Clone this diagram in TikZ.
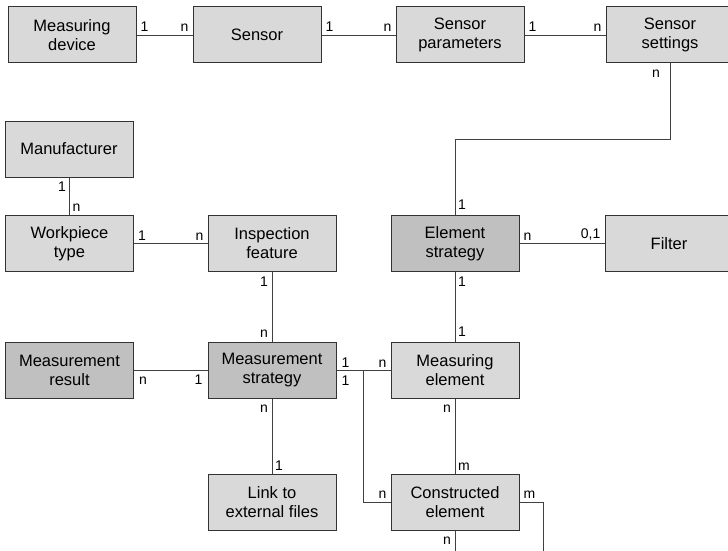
\documentclass[tikz,border=0pt]{standalone}
\usepackage{fontspec}
\setmainfont{Liberation Sans}
\definecolor{boxlight}{HTML}{D9D9D9}
\definecolor{boxdark}{HTML}{C0C0C0}
\definecolor{edge}{HTML}{333333}
\definecolor{linec}{HTML}{404040}
\begin{document}
\begin{tikzpicture}[x=1pt,y=-1pt,
  box/.style={draw=edge, line width=1pt, fill=boxlight, minimum width=128pt, minimum height=56pt,
    inner sep=0pt, align=center, font=\fontsize{16.5}{19}\selectfont},
  dbox/.style={box, fill=boxdark},
  conn/.style={draw=linec, line width=0.9pt},
  lbl/.style={inner sep=0pt, font=\fontsize{14}{16}\selectfont}]
\useasboundingbox[fill=white] (0,0) rectangle (728,551);
\begin{scope}
\clip (0,0) rectangle (728,551);
% nodes
\node[box] (md) at (72,35) {Measuring\\device};
\node[box] (sen) at (257,35) {Sensor};
\node[box] (sp) at (460,35) {Sensor\\parameters};
\node[box] (ss) at (670,35) {Sensor\\settings};
\node[box] (man) at (69,149) {Manufacturer};
\node[box] (wt) at (69.5,243.5) {Workpiece\\type};
\node[box] (if) at (272,243.5) {Inspection\\feature};
\node[dbox] (es) at (455,243.5) {Element\\strategy};
\node[box] (fil) at (669,243.5) {Filter};
\node[dbox] (mr) at (69.5,370.5) {Measurement\\result};
\node[dbox] (ms) at (272,370.5) {Measurement\\strategy};
\node[box] (me) at (455,370.5) {Measuring\\element};
\node[box] (lef) at (272,502) {Link to\\external files};
\node[box] (ce) at (455,502) {Constructed\\element};
\coordinate (j) at (363,370.5);
\coordinate (ceR) at (543,551);
\coordinate (ceB) at (455,551);
% connectors
\draw[conn] (md.east) -- (sen.west);
\draw[conn] (sen.east) -- (sp.west);
\draw[conn] (sp.east) -- (ss.west);
\draw[conn] (ss.south) -- ++(0,76) -| (es.north);
\draw[conn] (man.south) -- (man.south |- wt.north);
\draw[conn] (wt.east) -- (if.west);
\draw[conn] (es.east) -- (fil.west);
\draw[conn] (if.south) -- (ms.north);
\draw[conn] (es.south) -- (me.north);
\draw[conn] (mr.east) -- (ms.west);
\draw[conn] (ms.east) -- (me.west);
\draw[conn] (j) |- (ce.west);
\draw[conn] (ms.south) -- (lef.north);
\draw[conn] (me.south) -- (ce.north);
\draw[conn] (ce.east) -| (ceR);
\draw[conn] (ce.south) -- (ceB);
% labels horizontal
\node[lbl, anchor=south west, xshift=4pt, yshift=3pt] at (md.east) {1};
\node[lbl, anchor=south east, xshift=-4pt, yshift=3pt] at (sen.west) {n};
\node[lbl, anchor=south west, xshift=4pt, yshift=3pt] at (sen.east) {1};
\node[lbl, anchor=south east, xshift=-4pt, yshift=3pt] at (sp.west) {n};
\node[lbl, anchor=south west, xshift=4pt, yshift=3pt] at (sp.east) {1};
\node[lbl, anchor=south east, xshift=-4pt, yshift=3pt] at (ss.west) {n};
\node[lbl, anchor=south west, xshift=4pt, yshift=3pt] at (wt.east) {1};
\node[lbl, anchor=south east, xshift=-4pt, yshift=3pt] at (if.west) {n};
\node[lbl, anchor=south west, xshift=4pt, yshift=3pt] at (es.east) {n};
\node[lbl, anchor=south east, xshift=-4pt, yshift=3pt] at (fil.west) {0,1};
\node[lbl, anchor=north west, xshift=5pt, yshift=-6pt] at (mr.east) {n};
\node[lbl, anchor=north east, xshift=-5pt, yshift=-4pt] at (ms.west) {1};
\node[lbl, anchor=south west, xshift=5pt, yshift=3pt] at (ms.east) {1};
\node[lbl, anchor=north west, xshift=5pt, yshift=-5pt] at (ms.east) {1};
\node[lbl, anchor=south east, xshift=-4pt, yshift=3pt] at (me.west) {n};
\node[lbl, anchor=south east, xshift=-4pt, yshift=3pt] at (ce.west) {n};
\node[lbl, anchor=south west, xshift=4pt, yshift=3pt] at (ce.east) {m};
% labels vertical
\node[lbl, anchor=north east, xshift=-10pt, yshift=-6pt] at (ss.south) {n};
\node[lbl, anchor=south west, xshift=3pt, yshift=5pt] at (es.north) {1};
\node[lbl, anchor=north east, xshift=-3pt, yshift=-4pt] at (man.south) {1};
\node[lbl, anchor=south west, xshift=3pt, yshift=3pt] at (wt.north) {n};
\node[lbl, anchor=north east, xshift=-4pt, yshift=-5pt] at (if.south) {1};
\node[lbl, anchor=south east, xshift=-4pt, yshift=4pt] at (ms.north) {n};
\node[lbl, anchor=north west, xshift=3pt, yshift=-5pt] at (es.south) {1};
\node[lbl, anchor=south west, xshift=3pt, yshift=5pt] at (me.north) {1};
\node[lbl, anchor=north east, xshift=-4pt, yshift=-6pt] at (ms.south) {n};
\node[lbl, anchor=south west, xshift=3pt, yshift=3pt] at (lef.north) {1};
\node[lbl, anchor=north east, xshift=-4pt, yshift=-6pt] at (me.south) {n};
\node[lbl, anchor=south west, xshift=3pt, yshift=3pt] at (ce.north) {m};
\node[lbl, anchor=north east, xshift=-4pt, yshift=-6pt] at (ce.south) {n};
\end{scope}
\end{tikzpicture}
\end{document}
